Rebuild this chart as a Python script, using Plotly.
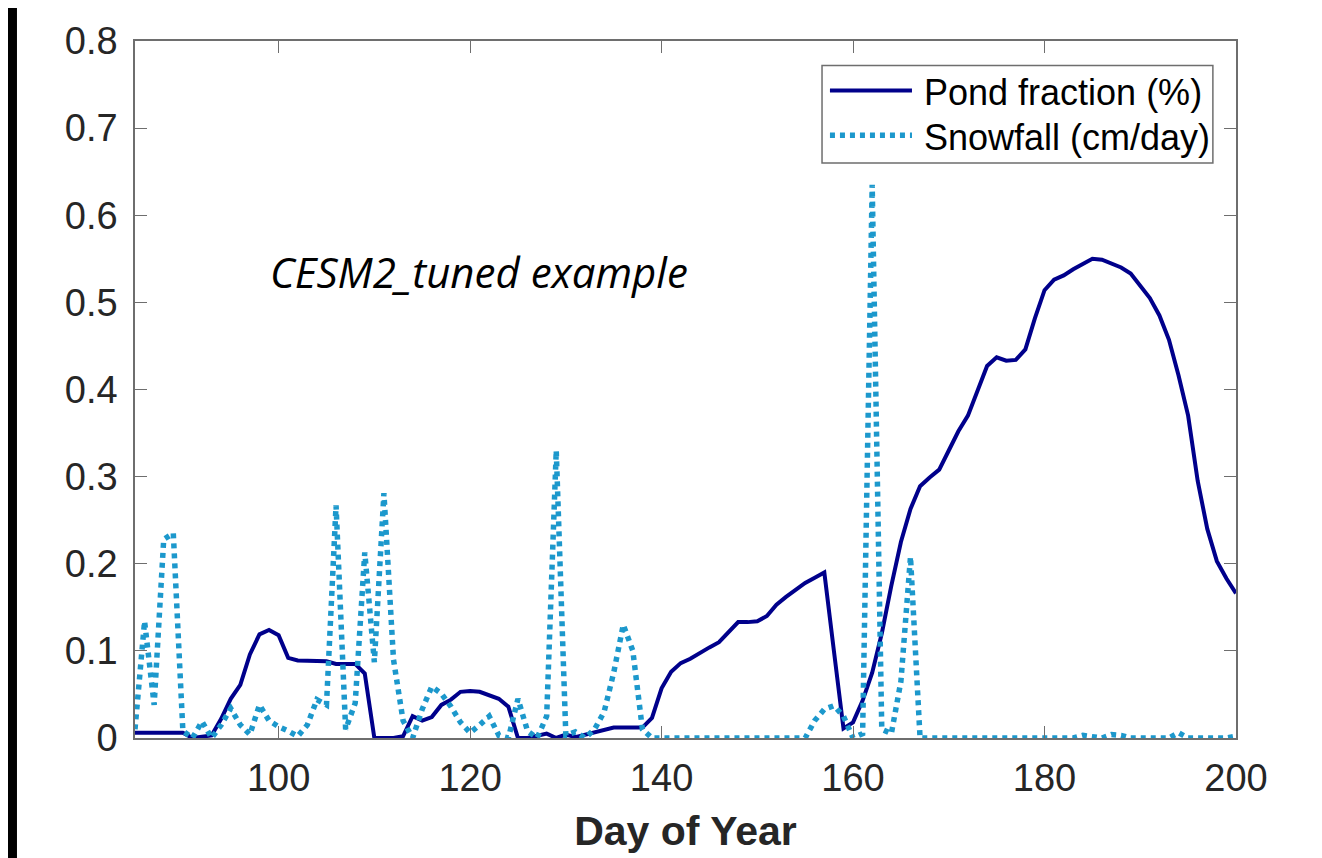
import plotly.graph_objects as go

days = list(range(85, 201))

pond_fraction = [
    0.006, 0.006, 0.006, 0.006, 0.006, 0.006, 0.000, 0.002, 0.003, 0.022,  # 85-94
    0.045, 0.061, 0.096, 0.119, 0.124, 0.118, 0.092, 0.089, 0.089, 0.089,  # 95-104
    0.088, 0.085, 0.085, 0.085, 0.074, 0.000, 0.000, 0.000, 0.002, 0.025,  # 105-114
    0.020, 0.024, 0.038, 0.044, 0.053, 0.054, 0.053, 0.049, 0.045, 0.036,  # 115-124
    0.000, 0.000, 0.003, 0.005, 0.000, 0.004, 0.001, 0.004, 0.007, 0.010,  # 125-134
    0.012, 0.012, 0.012, 0.012, 0.023, 0.057, 0.076, 0.086, 0.091, 0.098,  # 135-144
    0.104, 0.110, 0.121, 0.133, 0.133, 0.134, 0.140, 0.153, 0.162, 0.170,  # 145-154
    0.178, 0.184, 0.190, 0.100, 0.011, 0.018, 0.043, 0.075, 0.120, 0.175,  # 155-164
    0.225, 0.263, 0.289, 0.299, 0.308, 0.330, 0.352, 0.370, 0.398, 0.427,  # 165-174
    0.437, 0.433, 0.434, 0.446, 0.482, 0.514, 0.526, 0.531, 0.538, 0.544,  # 175-184
    0.550, 0.549, 0.545, 0.540, 0.533, 0.519, 0.505, 0.485, 0.457, 0.416,  # 185-194
    0.370, 0.295, 0.240, 0.203, 0.183, 0.166,                              # 195-200
]

snowfall = [
    0.010, 0.134, 0.038, 0.228, 0.235, 0.008, 0.000, 0.019, 0.000, 0.015,  # 85-94
    0.034, 0.015, 0.004, 0.038, 0.020, 0.013, 0.008, 0.002, 0.015, 0.044,  # 95-104
    0.038, 0.267, 0.010, 0.040, 0.213, 0.087, 0.281, 0.090, 0.020, 0.000,  # 105-114
    0.033, 0.059, 0.051, 0.036, 0.018, 0.006, 0.015, 0.025, 0.003, 0.000,  # 115-124
    0.045, 0.008, 0.000, 0.025, 0.330, 0.003, 0.007, 0.000, 0.010, 0.030,  # 125-134
    0.075, 0.130, 0.100, 0.010, 0.000, 0.000, 0.000, 0.000, 0.000, 0.000,  # 135-144
    0.000, 0.000, 0.000, 0.000, 0.000, 0.000, 0.000, 0.000, 0.000, 0.000,  # 145-154
    0.000, 0.020, 0.033, 0.037, 0.025, 0.000, 0.005, 0.635, 0.010, 0.005,  # 155-164
    0.065, 0.208, 0.000, 0.000, 0.000, 0.000, 0.000, 0.000, 0.000, 0.000,  # 165-174
    0.000, 0.000, 0.000, 0.000, 0.000, 0.000, 0.000, 0.000, 0.000, 0.003,  # 175-184
    0.002, 0.000, 0.004, 0.003, 0.000, 0.000, 0.000, 0.000, 0.000, 0.006,  # 185-194
    0.000, 0.000, 0.000, 0.000, 0.000, 0.002,                              # 195-200
]

x_ticks = [100, 120, 140, 160, 180, 200]
y_ticks = [0, 0.1, 0.2, 0.3, 0.4, 0.5, 0.6, 0.7, 0.8]
y_tick_labels = ["0", "0.1", "0.2", "0.3", "0.4", "0.5", "0.6", "0.7", "0.8"]
series_names = ["Pond fraction (%)", "Snowfall (cm/day)"]
annotation_text = "CESM2_tuned example"

POND_COLOR = "rgb(0,0,139)"
SNOW_COLOR = "rgb(28,152,204)"
AXIS_COLOR = "rgb(110,110,110)"
TEXT_COLOR = "rgb(38,38,38)"
SNOW_DASH = "5px,5px"

fig = go.Figure()
fig.add_trace(go.Scatter(x=days, y=pond_fraction, mode="lines", name=series_names[0],
                         line=dict(color=POND_COLOR, width=4), showlegend=False))
fig.add_trace(go.Scatter(x=days, y=snowfall, mode="lines", name=series_names[1],
                         line=dict(color=SNOW_COLOR, width=5.5, dash=SNOW_DASH), showlegend=False))

# white page area inside a thin black frame
fig.add_shape(type="rect", xref="paper", yref="paper", x0=-0.1072, x1=1.0736, y0=-0.3, y1=1.2,
              fillcolor="white", line=dict(width=0), layer="below")

# hand-drawn legend box (MATLAB style)
fig.add_shape(type="rect", xref="paper", yref="paper", x0=0.624, x1=0.979, y0=0.825, y1=0.9647,
              fillcolor="white", line=dict(color=AXIS_COLOR, width=1.5), layer="above")
fig.add_shape(type="line", xref="paper", yref="paper", x0=0.6312, x1=0.7057, y0=0.929, y1=0.929,
              line=dict(color=POND_COLOR, width=4), layer="above")
fig.add_shape(type="line", xref="paper", yref="paper", x0=0.6312, x1=0.7057, y0=0.8646, y1=0.8646,
              line=dict(color=SNOW_COLOR, width=5.5, dash=SNOW_DASH), layer="above")
legend_font = dict(family="Liberation Sans, Arial, sans-serif", size=36, color="black")
fig.add_annotation(xref="paper", yref="paper", x=0.7148, y=0.926, xanchor="left", yanchor="middle",
                   text=series_names[0], showarrow=False, font=legend_font)
fig.add_annotation(xref="paper", yref="paper", x=0.7148, y=0.862, xanchor="left", yanchor="middle",
                   text=series_names[1], showarrow=False, font=legend_font)

fig.add_annotation(xref="paper", yref="paper", x=0.1208, y=0.670, xanchor="left", yanchor="middle",
                   text="<i>" + annotation_text + "</i>", showarrow=False,
                   font=dict(family="Open Sans, Lato, sans-serif", size=42, color="black"))

tick_font = dict(family="Liberation Sans, Arial, sans-serif", size=38, color=TEXT_COLOR)

fig.update_layout(
    width=1314, height=850,
    margin=dict(l=127, r=86, t=25, b=116, pad=0),
    paper_bgcolor="black", plot_bgcolor="white",
    showlegend=False,
    xaxis=dict(range=[85, 200], tickvals=x_ticks, ticks="inside", ticklen=12, tickwidth=1.2,
               tickcolor=AXIS_COLOR, showline=True, linecolor=AXIS_COLOR, linewidth=1.5,
               mirror="ticks", showgrid=False, zeroline=False, tickfont=tick_font,
               ticklabelstandoff=6,
               title=dict(text="<b>Day of Year</b>", standoff=18,
                          font=dict(family="Liberation Sans, Arial, sans-serif", size=41, color=TEXT_COLOR))),
    yaxis=dict(range=[0, 0.8], tickvals=y_ticks, ticktext=y_tick_labels, ticks="inside", ticklen=12,
               tickwidth=1.2, tickcolor=AXIS_COLOR, showline=True, linecolor=AXIS_COLOR, linewidth=1.5,
               mirror="ticks", showgrid=False, zeroline=False, tickfont=tick_font,
               ticklabelstandoff=8),
)

fig.write_html("out.html")
